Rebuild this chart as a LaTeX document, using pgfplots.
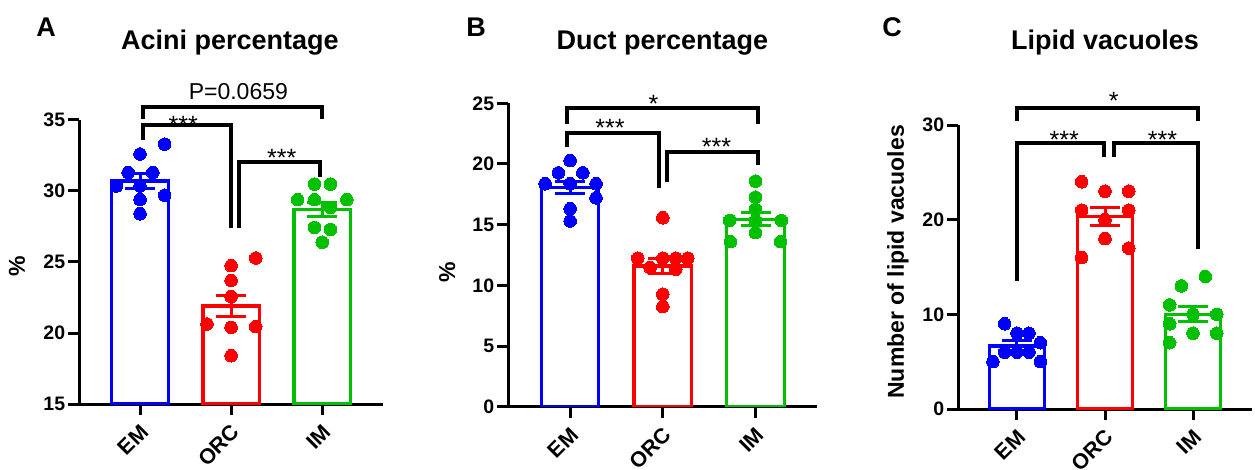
\documentclass[border=0pt]{standalone}
\usepackage{fontspec}
\setmainfont{Liberation Sans}
\usepackage{pgfplots}
\pgfplotsset{compat=1.18}
\definecolor{pblue}{RGB}{0,0,255}
\definecolor{pred}{RGB}{255,0,0}
\definecolor{pgreen}{RGB}{0,192,0}
\pgfplotsset{
  prism/.style={
    scale only axis, clip mode=individual, anchor=south west,
    axis lines=left, axis line style={-, line width=3pt, black},
    every tick/.style={black, line width=3pt},
    major tick length=11pt, tick align=outside,
    xmin=-0.6667, xmax=2.6667, xtick={0,1,2}, xticklabels={EM,ORC,IM},
    tick label style={font=\bfseries\fontsize{19.5}{20}\selectfont, black},
    /pgf/number format/assume math mode=true,
    xticklabel style={font=\bfseries\fontsize{21.5}{22}\selectfont, xshift=6pt, yshift=-12pt, rotate=45, anchor=east, inner sep=2pt},
    yticklabel style={inner sep=3pt},
    ylabel style={font=\bfseries\fontsize{23}{24}\selectfont, anchor=center},
    minor tick num=0,
  },
  pbar/.style={ybar, bar shift=0pt, bar width=0.62, fill=white, draw=#1, line width=3.3pt,
    /pgfplots/error bars/y dir=both, /pgfplots/error bars/y explicit,
    /pgfplots/error bars/error mark=|,
    /pgfplots/error bars/error bar style={color=#1, line width=3pt},
    /pgfplots/error bars/error mark options={color=#1, line width=3pt, mark size=15pt}},
  pdots/.style={only marks, mark=*, mark size=6.3pt, color=#1, mark options={fill=#1, draw=#1, line width=0pt}},
}
\tikzset{brk/.style={line width=4pt, black, line join=miter, line cap=butt},
  star/.style={anchor=base, font=\fontsize{25}{25}\selectfont, inner sep=0pt}}
\begin{document}
\begin{tikzpicture}
\useasboundingbox (0pt,0pt) rectangle (1255pt,469pt);
% ---------------- Panel A
\begin{axis}[prism, at={(79.3pt,65pt)}, width=303.7pt, height=284pt,
  ymin=15, ymax=35, ytick={15,20,25,30,35}, ylabel={\%},
  ylabel style={at={(axis description cs:-0.205,0.486)}}]
\addplot[pbar=pblue] coordinates {(0,30.7) +- (0,0.52)};
\addplot[pbar=pred] coordinates {(1,21.9) +- (0,0.75)};
\addplot[pbar=pgreen] coordinates {(2,28.7) +- (0,0.5)};
\addplot[pdots=pblue] coordinates {(0.27,33.3) (0,32.6) (-0.13,31.3) (0.14,31.3) (-0.26,30.35) (0,30.35) (0.27,29.7) (0,29.4) (0,28.4)};
\addplot[pdots=pred] coordinates {(1.27,25.28) (1,24.74) (1,23.7) (1,22.56) (0.735,20.63) (1,20.4) (1.27,20.45) (1,18.4)};
\addplot[pdots=pgreen] coordinates {(1.915,30.49) (2.09,30.49) (1.73,29.39) (1.915,29.39) (2.27,29.39) (2.09,28.85) (1.915,27.44) (2.09,27.3) (2,26.39)};
\draw[brk] (axis cs:0.036,35.07) -- (axis cs:0.036,35.94) -- (axis cs:1.995,35.94) -- (axis cs:1.995,35.07);
\draw[brk] (axis cs:0.036,33.59) -- (axis cs:0.036,34.65) -- (axis cs:1.0,34.65) -- (axis cs:1.0,27.37);
\draw[brk] (axis cs:1.087,27.37) -- (axis cs:1.087,32.02) -- (axis cs:1.976,32.02) -- (axis cs:1.976,31.01);
\node[star] at (axis cs:0.475,34.07) {***};
\node[star] at (axis cs:1.555,31.73) {***};
\node[anchor=base, inner sep=0pt, font=\fontsize{23}{23}\selectfont] at (axis cs:1.079,36.41) {P=0.0659};
\end{axis}
% ---------------- Panel B
\begin{axis}[prism, at={(508.3pt,62.3pt)}, width=309pt, height=303.4pt,
  ymin=0, ymax=25, ytick={0,5,10,15,20,25}, ylabel={\%},
  ylabel style={at={(axis description cs:-0.198,0.444)}}]
\addplot[pbar=pblue] coordinates {(0,18.05) +- (0,0.52)};
\addplot[pbar=pred] coordinates {(1,11.6) +- (0,0.62)};
\addplot[pbar=pgreen] coordinates {(2,15.45) +- (0,0.55)};
\addplot[pdots=pblue] coordinates {(0,20.28) (-0.126,19.27) (0.137,19.27) (-0.27,18.37) (0,18.37) (0.28,18.37) (0.28,17.21) (0,16.31) (0,15.3)};
\addplot[pdots=pred] coordinates {(1,15.57) (0.73,12.23) (1,12.23) (1.14,12.23) (1.27,12.23) (0.863,11.46) (1.14,11.32) (1,9.27) (1,8.25)};
\addplot[pdots=pgreen] coordinates {(2,18.59) (2,17.27) (2,16.26) (1.72,15.35) (2,15.35) (2.28,15.35) (2,14.34) (1.73,13.6) (2.27,13.6)};
\draw[brk] (axis cs:-0.036,23.29) -- (axis cs:-0.036,24.58) -- (axis cs:2.03,24.58) -- (axis cs:2.03,23.29);
\draw[brk] (axis cs:-0.036,21.37) -- (axis cs:-0.036,22.52) -- (axis cs:0.954,22.52) -- (axis cs:0.954,17.99);
\draw[brk] (axis cs:1.05,18.53) -- (axis cs:1.05,21.0) -- (axis cs:2.03,21.0) -- (axis cs:2.03,19.9);
\node[star] at (axis cs:0.9,24.23) {*};
\node[star] at (axis cs:0.43,22.26) {***};
\node[star] at (axis cs:1.58,20.66) {***};
\end{axis}
% ---------------- Panel C
\begin{axis}[prism, at={(958.3pt,60pt)}, width=293.4pt, height=284pt,
  ymin=0, ymax=30, ytick={0,10,20,30}, ylabel={Number of lipid vacuoles},
  ylabel style={at={(axis description cs:-0.2055,0.518)}}]
\addplot[pbar=pblue] coordinates {(0,6.67) +- (0,0.55)};
\addplot[pbar=pred] coordinates {(1,20.33) +- (0,0.95)};
\addplot[pbar=pgreen] coordinates {(2,10.0) +- (0,0.8)};
\addplot[pdots=pblue] coordinates {(-0.14,9) (0,8) (0.136,8) (0.265,7) (-0.14,6) (0,6) (0.136,6) (-0.273,5) (0.265,5)};
\addplot[pdots=pred] coordinates {(0.735,24) (1,23) (1.27,23) (0.735,21) (1.27,21) (1,20) (1,18) (1.27,17) (0.735,16)};
\addplot[pdots=pgreen] coordinates {(2.14,14) (1.867,13) (1.735,11) (2,10) (2.27,10) (1.735,9) (2,8) (2.27,8) (1.735,7)};
\draw[brk] (axis cs:0,30.45) -- (axis cs:0,31.76) -- (axis cs:2.06,31.76) -- (axis cs:2.06,30.45);
\draw[brk] (axis cs:0,13.55) -- (axis cs:0,28.07) -- (axis cs:0.99,28.07) -- (axis cs:0.99,26.65);
\draw[brk] (axis cs:1.106,26.65) -- (axis cs:1.106,28.07) -- (axis cs:2.06,28.07) -- (axis cs:2.06,16.87);
\node[star] at (axis cs:1.1,31.6) {*};
\node[star] at (axis cs:0.536,27.52) {***};
\node[star] at (axis cs:1.653,27.52) {***};
\end{axis}
% ---------------- titles and panel letters
\node[anchor=base, inner sep=0pt, font=\bfseries\fontsize{27}{27}\selectfont] at (46pt,432.3pt) {A};
\node[anchor=base, inner sep=0pt, font=\bfseries\fontsize{27}{27}\selectfont] at (476pt,432.3pt) {B};
\node[anchor=base, inner sep=0pt, font=\bfseries\fontsize{27}{27}\selectfont] at (892pt,432.3pt) {C};
\node[anchor=base, inner sep=0pt, font=\bfseries\fontsize{27}{27}\selectfont] at (230pt,419pt) {Acini percentage};
\node[anchor=base, inner sep=0pt, font=\bfseries\fontsize{27}{27}\selectfont] at (662.5pt,419pt) {Duct percentage};
\node[anchor=base, inner sep=0pt, font=\bfseries\fontsize{27}{27}\selectfont] at (1105pt,419pt) {Lipid vacuoles};
\end{tikzpicture}
\end{document}
